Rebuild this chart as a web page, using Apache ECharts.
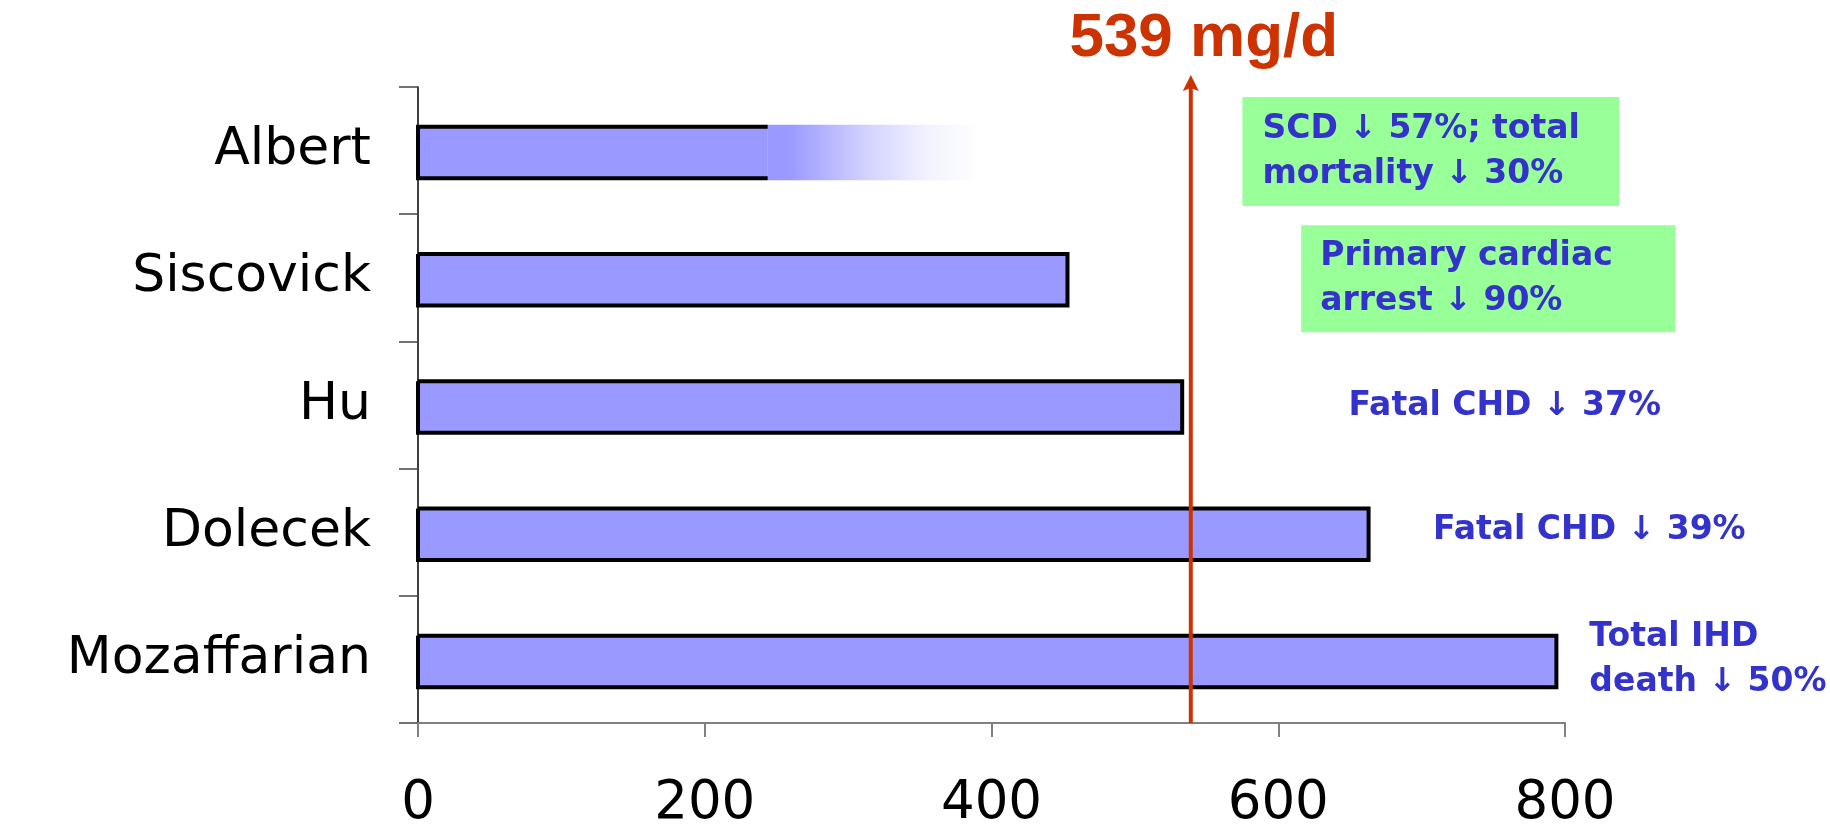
<!DOCTYPE html>
<html>
<head>
<meta charset="utf-8">
<title>Fish oil intake by study</title>
<script src="https://cdn.jsdelivr.net/npm/echarts@6/dist/echarts.min.js"></script>
<style>
    html, body { margin: 0; padding: 0; background: #fff; }
    #chart { width: 1830px; height: 831px; }
</style>
</head>
<body>
<div id="chart"></div>
<script>
// 各研究的摄入量 (mg/d)
const studies = ['Albert', 'Siscovick', 'Hu', 'Dolecek', 'Mozaffarian'];
const intake = [244, 453, 533, 663, 794];
// Albert 的柱子渐隐到这个值
const albertFadeEnd = 392;
// 阈值线
const thresholdIntake = 539;
const xTicks = [0, 200, 400, 600, 800];
// 每个研究的结果说明
const outcomes = [
    'SCD ↓ 57%; total\nmortality ↓ 30%',
    'Primary cardiac\narrest ↓ 90%',
    'Fatal CHD ↓ 37%',
    'Fatal CHD ↓ 39%',
    'Total IHD\ndeath ↓ 50%'
];

// 说明文字的摆放 (x 为左边缘的轴值, box 为绿色底框大小)
const noteLayout = [
    { x: 575, box: [377, 109], pad: 20 },
    { x: 616, box: [374, 107], pad: 19 },
    { x: 649 },
    { x: 708, dy: -3 },
    { x: 817 }
];

const BAR_FILL = '#9999FF';
const BAR_BORDER = 4;
const RED = '#CC3300';
const BLUE = '#3333CC';

/**
 * 画一根带黑边的柱子; Albert 的右边不封口
 */
function renderBar(params, api) {
    const cat = api.value(1);
    const start = api.coord([0, cat]);
    const end = api.coord([api.value(0), cat]);
    const h = api.size([0, 1])[1] * 0.405;
    const top = start[1] - h / 2 + 2;
    const bottom = top + h;
    const open = cat === 0;

    const outline = open
        ? [[end[0], top], [start[0], top], [start[0], bottom], [end[0], bottom]]
        : [[start[0], top], [end[0], top], [end[0], bottom], [start[0], bottom], [start[0], top]];

    return {
        type: 'group',
        children: [
            {
                type: 'rect',
                shape: { x: start[0], y: top, width: end[0] - start[0], height: h },
                style: { fill: BAR_FILL }
            },
            {
                type: 'polyline',
                shape: { points: outline },
                style: { stroke: '#000', lineWidth: BAR_BORDER, fill: null, lineJoin: 'miter' }
            }
        ]
    };
}

/**
 * Albert 柱子右侧的渐隐部分
 */
function renderFade(params, api) {
    const cat = api.value(2);
    const start = api.coord([api.value(0), cat]);
    const end = api.coord([api.value(1), cat]);
    const h = api.size([0, 1])[1] * 0.405 + BAR_BORDER;
    const top = start[1] - h / 2 + 2;
    return {
        type: 'rect',
        shape: { x: start[0], y: top, width: end[0] - start[0], height: h },
        style: {
            fill: new echarts.graphic.LinearGradient(0, 0, 1, 0, [
                { offset: 0, color: BAR_FILL },
                { offset: 0.1, color: BAR_FILL },
                { offset: 0.45, color: '#D0D0FF' },
                { offset: 0.75, color: '#F2F2FF' },
                { offset: 1, color: '#FFFFFF' }
            ])
        }
    };
}

/**
 * 结果说明, 前两个带绿色底框
 */
function renderNote(params, api) {
    const i = params.dataIndex;
    const layout = noteLayout[i];
    const p = api.coord([api.value(0), api.value(1)]);
    const cy = p[1] + 1 + (layout.dy || 0);
    const children = [];

    if (layout.box) {
        children.push({
            type: 'rect',
            shape: { x: p[0], y: cy - layout.box[1] / 2, width: layout.box[0], height: layout.box[1] },
            style: { fill: '#99FF99' }
        });
    }
    children.push({
        type: 'text',
        x: p[0] + (layout.pad || 0),
        y: cy,
        style: {
            text: outcomes[i],
            fill: BLUE,
            fontFamily: 'DejaVu Sans',
            fontWeight: 'bold',
            fontSize: 33,
            lineHeight: 45,
            align: 'left',
            verticalAlign: 'middle'
        }
    });
    return { type: 'group', children: children };
}

/**
 * 539 mg/d 的红色箭头线和标题
 */
function renderThreshold(params, api) {
    const value = api.value(0);
    const x = api.coord([value, 0])[0];
    const grid = params.coordSys;
    const tipY = grid.y - 12;
    return {
        type: 'group',
        children: [
            {
                type: 'line',
                shape: { x1: x, y1: grid.y + grid.height, x2: x, y2: tipY + 10 },
                style: { stroke: RED, lineWidth: 4 }
            },
            {
                type: 'polygon',
                shape: { points: [[x, tipY], [x - 8, tipY + 16], [x, tipY + 13], [x + 8, tipY + 16]] },
                style: { fill: RED }
            },
            {
                type: 'text',
                x: x + 13,
                y: grid.y - 48,
                style: {
                    text: value + ' mg/d',
                    fill: RED,
                    fontFamily: 'Liberation Sans',
                    fontWeight: 'bold',
                    fontSize: 62,
                    align: 'center',
                    verticalAlign: 'middle'
                }
            }
        ]
    };
}

const chart = echarts.init(document.getElementById('chart'));

const option = {
    animation: false,
    backgroundColor: '#fff',
    grid: {
        left: 418,
        right: 265,
        top: 87,
        bottom: 103
    },
    xAxis: {
        type: 'value',
        min: xTicks[0],
        max: xTicks[xTicks.length - 1],
        interval: xTicks[1] - xTicks[0],
        axisLine: { show: true, lineStyle: { color: '#808080', width: 2 } },
        axisTick: { show: true, length: 14, lineStyle: { color: '#808080', width: 2 } },
        splitLine: { show: false },
        axisLabel: {
            color: '#000',
            fontFamily: 'DejaVu Sans',
            fontSize: 53,
            margin: 55
        }
    },
    yAxis: {
        type: 'category',
        data: studies,
        inverse: true,
        axisLine: { show: true, lineStyle: { color: '#000', width: 1.5 } },
        axisTick: { show: true, length: 19, lineStyle: { color: '#444', width: 1.5 } },
        axisLabel: {
            color: '#000',
            fontFamily: 'DejaVu Sans',
            fontSize: 52,
            margin: 47,
            lineHeight: 60,
            padding: [8, 0, 0, 0]
        }
    },
    series: [
        {
            name: 'Intake',
            type: 'custom',
            renderItem: renderBar,
            encode: { x: 0, y: 1 },
            data: intake.map((v, i) => [v, i])
        },
        {
            name: 'Albert fade',
            type: 'custom',
            renderItem: renderFade,
            encode: { x: [0, 1], y: 2 },
            data: [[intake[0], albertFadeEnd, 0]]
        },
        {
            name: 'Outcomes',
            type: 'custom',
            renderItem: renderNote,
            encode: { x: 0, y: 1 },
            data: outcomes.map((t, i) => [noteLayout[i].x, i])
        },
        {
            name: 'Threshold',
            type: 'custom',
            renderItem: renderThreshold,
            encode: { x: 0 },
            data: [[thresholdIntake]]
        }
    ]
};

chart.setOption(option);
</script>
</body>
</html>
